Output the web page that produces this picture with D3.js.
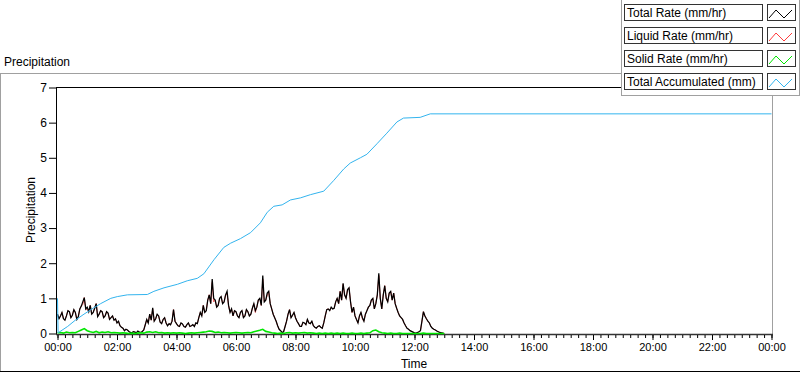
<!DOCTYPE html>
<html><head><meta charset="utf-8">
<script src="https://cdn.jsdelivr.net/npm/d3@7/dist/d3.min.js"></script>
<style>
body{margin:0;background:#fff;}
svg{display:block;font-family:"Liberation Sans",Arial,sans-serif;}
</style></head><body>
<svg id="chart" width="800" height="373"></svg>
<script>
// ---------- data ----------
const seriesNames = ["Total Rate (mm/hr)", "Liquid Rate (mm/hr)", "Solid Rate (mm/hr)", "Total Accumulated (mm)"];
const seriesColors = ["#000000", "#ff3b3b", "#00e600", "#33b4ee"];
const xTickHours = [0, 2, 4, 6, 8, 10, 12, 14, 16, 18, 20, 22, 24];
const xTickLabels = ["00:00", "02:00", "04:00", "06:00", "08:00", "10:00", "12:00", "14:00", "16:00", "18:00", "20:00", "22:00", "00:00"];
const yTickValues = [0, 1, 2, 3, 4, 5, 6, 7];
const yTickLabels = ["0", "1", "2", "3", "4", "5", "6", "7"];
const rateStepHours = 0.05;   // total / liquid: one reading every 3 minutes from 00:00
const solidStepHours = 0.1;   // solid: one reading every 6 minutes from 00:00

const totalRate = [
  0.55,0.42,0.5,0.6,0.42,0.38,0.5,0.65,0.62,0.45,0.52,0.68,0.6,0.4,0.48,0.7,0.78,0.9,1.02,0.7,
  0.75,0.62,0.8,0.55,0.6,0.72,0.85,0.48,0.55,0.65,0.62,0.45,0.5,0.62,0.58,0.4,0.45,0.5,0.38,0.42,
  0.3,0.35,0.22,0.18,0.15,0.08,0.12,0.1,0.06,0.03,0.02,0.05,0.04,0.02,0.07,0.04,0.03,0.06,0.1,0.25,
  0.4,0.3,0.55,0.38,0.73,0.35,0.42,0.55,0.5,0.32,0.28,0.4,0.45,0.3,0.22,0.28,0.25,0.35,0.68,0.35,
  0.28,0.22,0.2,0.3,0.27,0.2,0.18,0.25,0.3,0.2,0.22,0.25,0.2,0.3,0.28,0.45,0.6,0.5,0.8,0.6,
  0.65,0.95,1.1,0.85,1.55,1.0,0.95,0.75,0.8,1.0,1.05,0.85,0.9,1.1,1.2,0.8,0.6,0.7,0.5,0.65,
  0.62,0.5,0.45,0.6,0.65,0.45,0.5,0.68,0.62,0.5,0.55,0.72,0.85,0.65,0.75,0.95,1.0,0.8,1.65,0.9,
  0.95,1.15,1.2,0.85,0.7,0.55,0.45,0.35,0.22,0.12,0.08,0.03,0.05,0.2,0.35,0.55,0.68,0.45,0.52,0.6,
  0.45,0.35,0.28,0.2,0.2,0.32,0.3,0.25,0.4,0.3,0.28,0.35,0.22,0.18,0.15,0.2,0.22,0.18,0.15,0.3,
  0.5,0.68,0.7,0.65,0.75,0.7,0.72,0.9,1.0,0.85,1.2,0.95,1.43,1.1,1.0,1.25,1.3,0.9,0.6,0.75,
  0.5,0.4,0.3,0.5,0.6,0.45,0.35,0.55,0.65,0.75,0.8,0.95,1.0,0.7,0.85,1.1,1.71,1.0,0.7,1.1,
  1.36,1.0,0.9,1.15,1.2,0.95,1.15,0.85,0.72,0.6,0.5,0.45,0.4,0.3,0.22,0.15,0.12,0.08,0.06,0.04,
  0.02,0.01,0.03,0.05,0.08,0.35,0.62,0.5,0.42,0.35,0.3,0.2,0.15,0.12,0.1,0.07,0.05,0.03,0.02,0.01,
  0
];
const liquidRate = [
  0.55,0.42,0.5,0.6,0.42,0.38,0.5,0.65,0.62,0.45,0.52,0.68,0.6,0.4,0.48,0.7,0.78,0.82,1.02,0.7,
  0.68,0.62,0.8,0.55,0.6,0.72,0.85,0.48,0.55,0.65,0.62,0.45,0.5,0.62,0.58,0.4,0.45,0.5,0.38,0.42,
  0.3,0.35,0.22,0.18,0.15,0.08,0.12,0.1,0.06,0.03,0.02,0.05,0.04,0.02,0.07,0.04,0.03,0.06,0.1,0.25,
  0.4,0.3,0.55,0.38,0.7,0.35,0.42,0.55,0.5,0.32,0.28,0.4,0.45,0.3,0.22,0.28,0.25,0.35,0.68,0.35,
  0.28,0.22,0.2,0.3,0.27,0.2,0.18,0.25,0.3,0.2,0.22,0.25,0.2,0.3,0.28,0.45,0.6,0.5,0.8,0.6,
  0.65,0.95,1.1,0.85,1.45,0.9,0.95,0.75,0.8,1.0,1.05,0.85,0.9,1.1,1.12,0.8,0.6,0.7,0.5,0.65,
  0.62,0.5,0.45,0.6,0.65,0.45,0.5,0.68,0.62,0.5,0.55,0.72,0.85,0.6,0.75,0.95,1.0,0.8,1.55,0.9,
  0.95,1.08,1.2,0.85,0.7,0.55,0.45,0.35,0.22,0.12,0.08,0.03,0.05,0.2,0.35,0.55,0.68,0.45,0.52,0.6,
  0.45,0.35,0.28,0.2,0.2,0.32,0.3,0.25,0.4,0.3,0.28,0.35,0.22,0.18,0.15,0.2,0.22,0.18,0.15,0.3,
  0.5,0.68,0.7,0.65,0.75,0.7,0.72,0.9,1.0,0.85,1.2,0.95,1.4,1.1,1.0,1.25,1.3,0.9,0.6,0.75,
  0.5,0.4,0.3,0.5,0.6,0.4,0.35,0.55,0.65,0.75,0.8,0.95,1.0,0.7,0.85,1.1,1.65,1.0,0.7,1.1,
  1.36,1.0,0.9,1.15,1.2,0.95,1.15,0.85,0.72,0.6,0.5,0.45,0.4,0.3,0.22,0.15,0.12,0.08,0.06,0.04,
  0.02,0.01,0.03,0.05,0.08,0.35,0.62,0.5,0.42,0.35,0.3,0.2,0.15,0.12,0.1,0.07,0.05,0.03,0.02,0.01,
  0
];
const solidRate = [
  0.02,0.03,0.01,0.04,0.02,0.03,0.02,0.06,0.1,0.14,
  0.08,0.05,0.03,0.06,0.02,0.04,0.03,0.05,0.02,0.03,
  0.02,0.01,0.02,0.01,0.0,0.01,0.0,0.01,0.02,0.01,
  0.04,0.05,0.03,0.05,0.02,0.03,0.01,0.02,0.01,0.02,
  0.01,0.02,0.01,0.0,0.01,0.02,0.01,0.02,0.03,0.04,
  0.05,0.07,0.06,0.03,0.04,0.02,0.03,0.02,0.01,0.02,
  0.03,0.02,0.01,0.02,0.03,0.02,0.05,0.07,0.09,0.12,
  0.06,0.04,0.02,0.01,0.0,0.01,0.0,0.02,0.03,0.01,
  0.02,0.01,0.02,0.03,0.01,0.02,0.01,0.0,0.01,0.0,
  0.01,0.0,0.01,0.0,0.01,0.0,0.01,0.0,0.0,0.01,
  0.0,0.0,0.01,0.0,0.01,0.02,0.08,0.1,0.05,0.02,
  0.01,0.0,0.01,0.0,0.0,0.01,0.0,0.0,0.0,0.0,
  0.0,0.0,0.0,0.01,0.0,0.0,0.0,0.0,0.0,0.0,
  0
];
const accumHours = [0, 0.02, 0.34, 0.6, 0.89, 1.2, 1.45, 1.79, 2.01, 2.35, 3.02, 3.24, 3.58, 4.03, 4.36, 4.7, 4.92, 5.26, 5.59, 5.82, 6.15, 6.49, 6.82, 7.05, 7.27, 7.55, 7.83, 8.17, 8.5, 8.95, 9.28, 9.62, 9.84, 10.18, 10.4, 10.74, 11.07, 11.41, 11.63, 12.19, 12.53, 24];
const accumValues = [1.0, 0.02, 0.2, 0.38, 0.55, 0.72, 0.85, 1.0, 1.05, 1.1, 1.11, 1.2, 1.3, 1.4, 1.5, 1.57, 1.7, 2.1, 2.45, 2.57, 2.7, 2.87, 3.15, 3.45, 3.62, 3.66, 3.8, 3.86, 3.95, 4.05, 4.35, 4.68, 4.85, 5.0, 5.1, 5.4, 5.7, 6.02, 6.13, 6.15, 6.25, 6.25];

// ---------- layout ----------
const svg = d3.select("#chart");
const x = d3.scaleLinear().domain([0, 24]).range([57.5, 771.5]);
const y = d3.scaleLinear().domain([0, 7]).range([333.5, 87.5]);

// outer panel frame
svg.append("line").attr("x1", 0).attr("x2", 622).attr("y1", 73.5).attr("y2", 73.5).attr("stroke", "#a0a0a0");
svg.append("line").attr("x1", 0.5).attr("x2", 0.5).attr("y1", 73).attr("y2", 372).attr("stroke", "#a0a0a0");
svg.append("line").attr("x1", 0).attr("x2", 800).attr("y1", 371.5).attr("y2", 371.5).attr("stroke", "#000");

svg.append("text").attr("x", 4).attr("y", 66).attr("font-size", 12).attr("fill", "#000").text("Precipitation");

// plot frame
svg.append("line").attr("x1", 56).attr("x2", 773).attr("y1", 87.5).attr("y2", 87.5).attr("stroke", "#000");
svg.append("line").attr("x1", 56.5).attr("x2", 56.5).attr("y1", 87).attr("y2", 335).attr("stroke", "#000");
svg.append("line").attr("x1", 772.5).attr("x2", 772.5).attr("y1", 87.5).attr("y2", 335).attr("stroke", "#a0a0a0");

// bottom axis line
svg.append("line").attr("x1", 56).attr("x2", 773).attr("y1", 334.5).attr("y2", 334.5).attr("stroke", "#333").attr("stroke-width", 1.5);

// series
const rateLine = d3.line().x((d, i) => x(i * rateStepHours)).y(d => y(d));
const solidLine = d3.line().x((d, i) => x(i * solidStepHours)).y(d => y(d));
svg.append("defs").append("clipPath").attr("id", "pc")
  .append("rect").attr("x", 57).attr("y", 87).attr("width", 715).attr("height", 248);
const g = svg.append("g").attr("clip-path", "url(#pc)");
g.append("path").datum(liquidRate).attr("d", rateLine).attr("fill", "none").attr("stroke", seriesColors[1]).attr("stroke-width", 0.8);
g.append("path").datum(totalRate).attr("d", rateLine).attr("fill", "none").attr("stroke", seriesColors[0]).attr("stroke-width", 1.25);
g.append("path").datum(solidRate).attr("d", solidLine).attr("fill", "none").attr("stroke", seriesColors[2]).attr("stroke-width", 1.6);
const accLine = d3.line().x(d => x(d[0])).y(d => y(d[1]));
g.append("path").datum(accumHours.map((h, i) => [h, accumValues[i]])).attr("d", accLine)
  .attr("fill", "none").attr("stroke", seriesColors[3]).attr("stroke-width", 1);

// x axis: minor ticks every 15 min, major every 2 h
const minorTicks = d3.range(0, 96 + 1).map(i => i / 4);
const xMinor = d3.axisBottom(x).tickValues(minorTicks).tickSize(3).tickFormat("");
const gxm = svg.append("g").attr("transform", "translate(0,335)").call(xMinor);
gxm.select(".domain").remove();
gxm.selectAll("line").attr("stroke", "#000");
const xMajor = d3.axisBottom(x).tickValues(xTickHours).tickSize(5).tickPadding(3)
  .tickFormat((d, i) => xTickLabels[i]);
const gx = svg.append("g").attr("transform", "translate(0,335)").call(xMajor);
gx.select(".domain").remove();
gx.selectAll("line").attr("stroke", "#000");
gx.selectAll("text").attr("font-size", 11).attr("font-family", "Liberation Sans, Arial, sans-serif").attr("fill", "#000");

// y axis
const yAxis = d3.axisLeft(y).tickValues(yTickValues).tickSize(7).tickPadding(2)
  .tickFormat((d, i) => yTickLabels[i]);
const gy = svg.append("g").attr("transform", "translate(56,0)").call(yAxis);
gy.select(".domain").remove();
gy.selectAll("line").attr("stroke", "#000");
gy.selectAll("text").attr("font-size", 12).attr("font-family", "Liberation Sans, Arial, sans-serif").attr("fill", "#000");

// axis titles
svg.append("text").attr("x", 414).attr("y", 368).attr("text-anchor", "middle").attr("font-size", 12).text("Time");
svg.append("text").attr("transform", "translate(35,210) rotate(-90)").attr("text-anchor", "middle").attr("font-size", 12).text("Precipitation");

// legend
const lg = svg.append("g");
lg.append("rect").attr("x", 621.5).attr("y", -1).attr("width", 178).attr("height", 96.5).attr("fill", "#fff").attr("stroke", "#a0a0a0");
const items = lg.selectAll("g.item").data(seriesNames).enter().append("g").attr("class", "item")
  .attr("transform", (d, i) => `translate(0,${i * 23})`);
items.append("rect").attr("x", 624.5).attr("y", 4.5).attr("width", 138).attr("height", 16).attr("fill", "#fff").attr("stroke", "#333");
items.append("text").attr("x", 627).attr("y", 17).attr("font-size", 12).attr("fill", "#000").text(d => d);
items.append("rect").attr("x", 767.5).attr("y", 4.5).attr("width", 28).attr("height", 16).attr("fill", "#fff").attr("stroke", "#333");
items.append("path").attr("d", "M769,18 L776,10 L784,18 L792,10").attr("fill", "none")
  .attr("stroke", (d, i) => seriesColors[i]).attr("stroke-width", 1);
</script>
</body></html>
